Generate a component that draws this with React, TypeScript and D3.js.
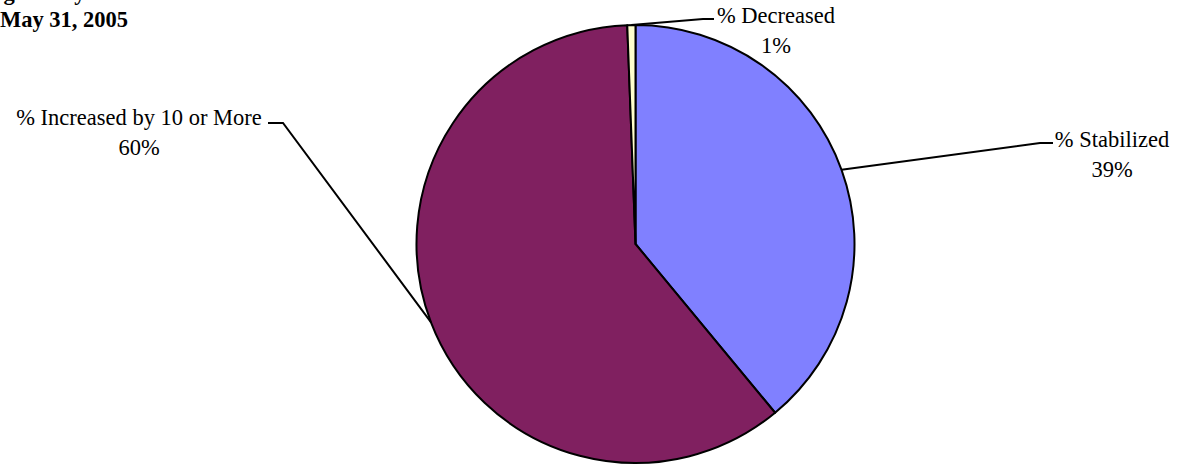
import React from "react";
import * as d3 from "d3";

const categories = ["% Stabilized", "% Increased by 10 or More", "% Decreased"];
const values = [39.0, 60.4, 0.6];
const colors = ["#8080FF", "#802060", "#FFFFCC"];
const titleLines = ["Change in Learning Ability", "May 31, 2005"];

const W = 1178;
const H = 465;
const cx = 635.5;
const cy = 244;
const R = 219;

// label layout: text center x, first baseline, leader end point, elbow
const labelLayout = [
  { tx: 1112, ty: 147, end: [1053, 143], elbow: [1040, 143] },
  { tx: 139, ty: 125, end: [268, 123], elbow: [283, 123] },
  { tx: 776, ty: 23, end: [714, 19], elbow: [703, 19] },
];

export default function App() {
  const pie = d3
    .pie<number>()
    .sort(null)
    .startAngle(0)
    .endAngle(2 * Math.PI)
    .value((d) => d);
  const arcs = pie(values);
  const arcGen = d3.arc<d3.PieArcDatum<number>>().innerRadius(0).outerRadius(R);
  const total = d3.sum(values);
  const fmt = (v: number) => `${Math.round((v / total) * 100)}%`;

  return (
    <div style={{ position: "absolute", left: 0, top: 0 }}>
      <svg width={W} height={H} style={{ display: "block" }}>
        <rect width={W} height={H} fill="#fff" />
        <g fontFamily="'Liberation Serif', 'Times New Roman', serif" fontWeight="bold" fontSize={22.5}>
          <text x={-74} y={-0.5} textAnchor="start">
            {titleLines[0].replace("Change in ", "")}
          </text>
          <text x={0} y={27}>
            {titleLines[1]}
          </text>
        </g>
        <g transform={`translate(${cx},${cy})`}>
          {arcs.map((a, i) => (
            <path
              key={i}
              d={arcGen(a) || ""}
              fill={colors[i]}
              stroke="#000"
              strokeWidth={2}
              strokeLinejoin="round"
            />
          ))}
        </g>
        {arcs.map((a, i) => {
          const mid = (a.startAngle + a.endAngle) / 2;
          const px = cx + Math.sin(mid) * R;
          const py = cy - Math.cos(mid) * R;
          const L = labelLayout[i];
          return (
            <g key={i}>
              <polyline
                points={`${px},${py} ${L.elbow[0]},${L.elbow[1]} ${L.end[0]},${L.end[1]}`}
                fill="none"
                stroke="#000"
                strokeWidth={2}
              />
              <text
                x={L.tx}
                y={L.ty}
                textAnchor="middle"
                fontFamily="'Liberation Serif', 'Times New Roman', serif"
                fontSize={22.5}
                fill="#000"
              >
                {categories[i]}
              </text>
              <text
                x={L.tx}
                y={L.ty + 29.5}
                textAnchor="middle"
                fontFamily="'Liberation Serif', 'Times New Roman', serif"
                fontSize={22.5}
                fill="#000"
              >
                {fmt(values[i])}
              </text>
            </g>
          );
        })}
      </svg>
    </div>
  );
}
